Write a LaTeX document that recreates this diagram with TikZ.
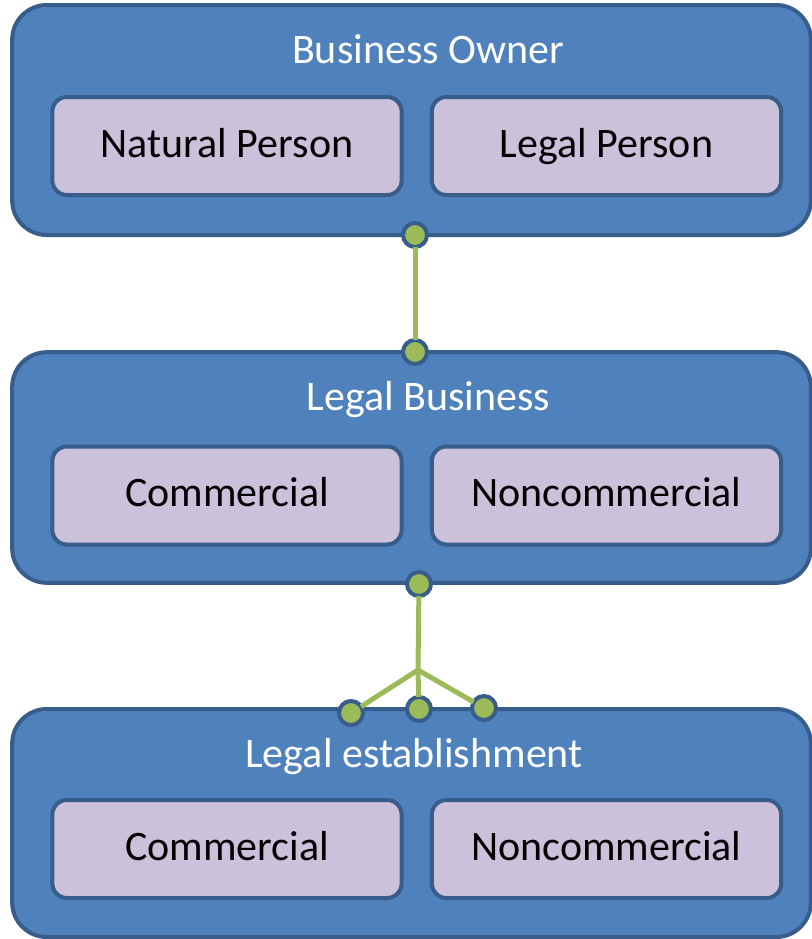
\documentclass[tikz,border=0pt]{standalone}
\usepackage{fontspec}
\setmainfont{Carlito}
\definecolor{boxblue}{HTML}{4F81BD}
\definecolor{edgeblue}{HTML}{385D8A}
\definecolor{lav}{HTML}{CCC1DA}
\definecolor{leaf}{HTML}{9BBB59}
\begin{document}
\begin{tikzpicture}[x=0.75pt,y=-0.75pt,
  outerbox/.style={draw=edgeblue,fill=boxblue,line width=3pt,rounded corners=26pt,
     minimum width=599pt,inner sep=0pt,outer sep=0pt},
  innerbox/.style={draw=edgeblue,fill=lav,line width=3pt,rounded corners=11pt,
     minimum width=262pt,minimum height=73.5pt,inner sep=0pt,
     font=\fontsize{31.5pt}{36pt}\selectfont,text height=22pt,text depth=5.5pt},
  title/.style={anchor=base,text=white,inner sep=0pt,font=\fontsize{31.5pt}{36pt}\selectfont},
  dot/.style={circle,draw=edgeblue,fill=leaf,line width=3pt,minimum size=18pt,inner sep=0pt,outer sep=0pt},
  link/.style={draw=leaf,line width=3.75pt}]
\useasboundingbox (0,0) rectangle (812,939);
% boxes
\node[outerbox,minimum height=172.5pt] (owner) at (411.5,120) {};
\node[outerbox,minimum height=173pt] (business) at (411.5,467.5) {};
\node[outerbox,minimum height=171pt] (estab) at (411.5,823) {};
% titles
\node[title] (t1) at (428,63) {Business Owner};
\node[title] (t2) at (428.5,410) {Legal Business};
\node[title] (t3) at (414,767) {Legal establishment};
% inner boxes
\node[innerbox] (np) at (227,146) {Natural Person};
\node[innerbox] (lp) at (606.5,146) {Legal Person};
\node[innerbox] (c1) at (227,495.5) {Commercial};
\node[innerbox] (n1) at (606.5,495.5) {Noncommercial};
\node[innerbox] (c2) at (227,849) {Commercial};
\node[innerbox] (n2) at (606.5,849) {Noncommercial};
% connectors
\node[dot] (d1) at (415,235) {};
\node[dot] (d2) at (415,352) {};
\draw[link] (d1) -- (d2);
\node[dot] (d3) at (419,584) {};
\coordinate (br) at (418,670);
\node[dot] (d4) at (351,713) {};
\node[dot] (d5) at (419,709) {};
\node[dot] (d6) at (484,708) {};
\draw[link] (d3) -- (br);
\draw[link] (br) -- (d4);
\draw[link] (br) -- (d5);
\draw[link] (br) -- (d6);
\end{tikzpicture}
\end{document}
